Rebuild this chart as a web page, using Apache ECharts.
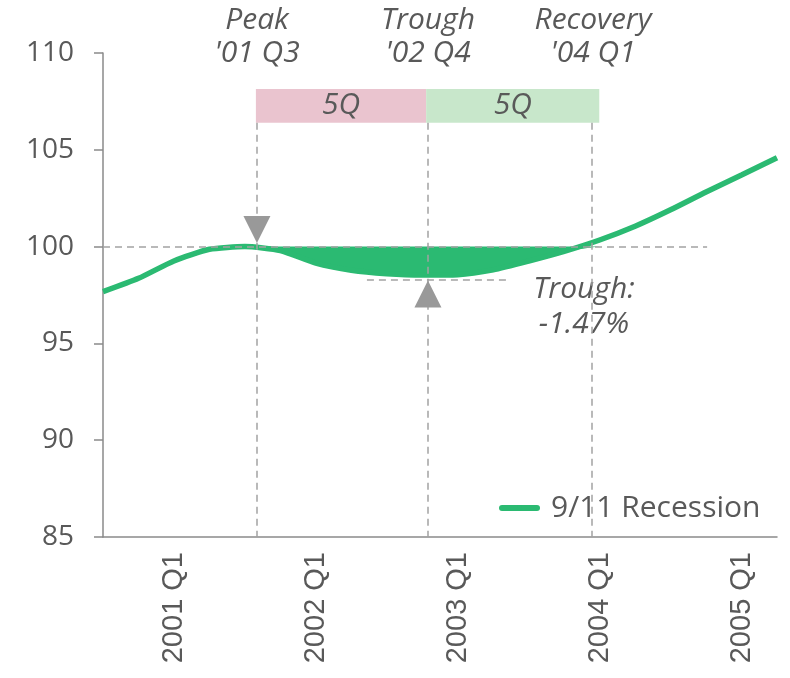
<!DOCTYPE html>
<html>
<head>
<meta charset="utf-8">
<script src="https://cdn.jsdelivr.net/npm/echarts@6/dist/echarts.min.js"></script>
<style>
 html, body { margin: 0; padding: 0; background: #fff; }
 #chart { width: 790px; height: 678px; }
</style>
</head>
<body>
<div id="chart"></div>
<script>
/** data **/
var quarters = ['2000 Q3', '2000 Q4', '2001 Q1', '2001 Q2', '2001 Q3', '2001 Q4',
 '2002 Q1', '2002 Q2', '2002 Q3', '2002 Q4', '2003 Q1', '2003 Q2', '2003 Q3', '2003 Q4',
 '2004 Q1', '2004 Q2', '2004 Q3', '2004 Q4', '2005 Q1', '2005 Q2'];
var recession = [97.67, 98.36, 99.26, 99.86, 100.0, 99.8, 99.15, 98.78, 98.6, 98.53,
 98.55, 98.8, 99.25, 99.75, 100.34, 101.05, 101.9, 102.82, 103.7, 104.59];
var seriesName = '9/11 Recession';
var peakIdx = 4, recoveryIdx = 14;

var grey = '#595959';
var green = '#2BBA72';
var dash = '#A3A3A3';

var lineData = recession.map(function(v, i) { return [i, v]; });
// shaded gap below the pre-recession peak level
var fillData = lineData.slice(peakIdx, recoveryIdx + 1).map(function(p) { return [p[0], Math.min(p[1], 100)]; });
var labelTicks = [];
quarters.forEach(function(q, i) { if (q.indexOf('Q1') > 0) labelTicks.push(i); });

var chart = echarts.init(document.getElementById('chart'));

var italic = { fontFamily: 'Open Sans', fontStyle: 'italic', fontSize: 30, fill: grey, align: 'center', verticalAlign: 'top', lineHeight: 33 };
function note(x, y, txt, lh) {
 return { type: 'text', x: x, y: y, style: Object.assign({}, italic, { text: txt, lineHeight: lh || 33 }) };
}
var dashStyle = { color: dash, type: [7, 5], width: 1.5 };

var option = {
 animation: false,
 grid: { left: 103, right: 13, top: 53, bottom: 141 },
 xAxis: {
  type: 'value',
  min: 0,
  max: quarters.length - 1,
  splitLine: { show: false },
  axisTick: { show: false },
  axisLine: { show: true, onZero: false, lineStyle: { color: '#8a8a8a', width: 1.5 } },
  axisLabel: {
   customValues: labelTicks,
   rotate: 90,
   margin: 15,
   fontFamily: 'Liberation Sans',
   fontSize: 29,
   color: grey,
   formatter: function(v) { return quarters[Math.round(v)]; }
  }
 },
 yAxis: {
  type: 'value',
  min: 85,
  max: 110,
  interval: 5,
  splitLine: { show: false },
  axisLine: { show: true, lineStyle: { color: '#8a8a8a', width: 1.5 } },
  axisTick: { show: true, length: 9, lineStyle: { color: '#8a8a8a', width: 1.5 } },
  axisLabel: { margin: 29, fontFamily: 'Open Sans', fontSize: 28, color: grey }
 },
 legend: {
  data: [seriesName],
  orient: 'horizontal',
  left: 494,
  top: 488,
  itemWidth: 35,
  itemHeight: 6,
  lineStyle: { width: 6, cap: 'round' },
  textStyle: { fontFamily: 'Open Sans', fontSize: 30, color: grey, padding: [0, 0, 0, 9] }
 },
 graphic: [
  note(257, 4, "Peak\n'01 Q3"),
  note(428, 4, "Trough\n'02 Q4"),
  note(593, 4, "Recovery\n'04 Q1"),
  note(584, 272, 'Trough:\n-1.47%', 35)
 ],
 series: [
  {
   name: 'fill',
   type: 'line',
   data: fillData,
   smooth: 0.2,
   symbol: 'none',
   lineStyle: { width: 0 },
   areaStyle: { color: green, opacity: 1, origin: 100 },
   z: 1,
   silent: true
  },
  {
   name: seriesName,
   type: 'line',
   data: lineData,
   smooth: 0.2,
   symbol: 'none',
   color: green,
   lineStyle: { width: 5.5, color: green },
   z: 3,
   markLine: {
    silent: true,
    symbol: 'none',
    label: { show: false },
    lineStyle: dashStyle,
    data: [
     [{ coord: [0, 100] }, { coord: [17.03, 100] }],
     [{ coord: [7.44, 98.3] }, { coord: [11.39, 98.3] }],
     [{ coord: [4.34, 106.4] }, { coord: [4.34, 85] }],
     [{ coord: [9.16, 106.4] }, { coord: [9.16, 85] }],
     [{ coord: [13.79, 106.4] }, { coord: [13.79, 85] }]
    ]
   },
   markArea: {
    silent: true,
    label: { show: true, position: 'inside', fontFamily: 'Open Sans', fontStyle: 'italic', fontSize: 30, color: grey },
    data: [
     [{ name: '5Q', coord: [4.31, 108.14], itemStyle: { color: '#EAC4CF' } }, { coord: [9.11, 106.4] }],
     [{ name: '5Q', coord: [9.11, 108.14], itemStyle: { color: '#C8E7CB' } }, { coord: [13.99, 106.4] }]
    ]
   },
   markPoint: {
    silent: true,
    label: { show: false },
    itemStyle: { color: '#999999' },
    data: [
     { coord: [4.34, 100.88], symbol: 'triangle', symbolSize: [27, 27], symbolRotate: 180 },
     { coord: [9.16, 97.55], symbol: 'triangle', symbolSize: [27, 27] }
    ]
   }
  }
 ]
};
chart.setOption(option);
</script>
</body>
</html>
